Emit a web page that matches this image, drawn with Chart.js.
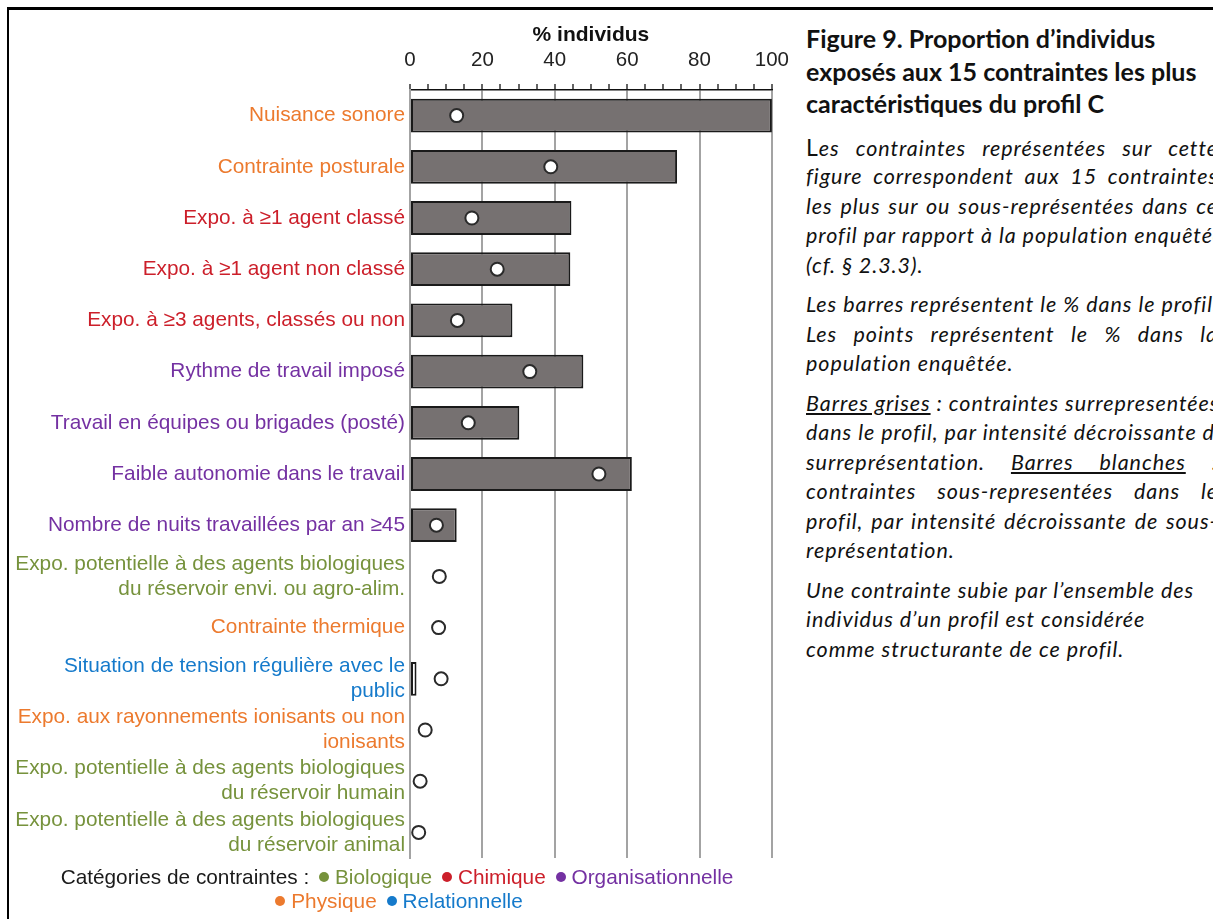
<!DOCTYPE html>
<html><head><meta charset="utf-8">
<script src="https://cdn.jsdelivr.net/npm/chart.js@4/dist/chart.umd.min.js"></script>
<style>
html,body{margin:0;padding:0;background:#fff;}
body{width:1213px;height:919px;overflow:hidden;position:relative;}
#c{position:absolute;left:0;top:0;}
.frame-top{position:absolute;left:7px;top:7px;width:1206px;height:3px;background:#000;}
.frame-left{position:absolute;left:7px;top:7px;width:2px;height:912px;background:#000;}
#legend{position:absolute;left:0;width:794px;top:865px;text-align:center;font-family:"Liberation Sans",Arial,sans-serif;font-size:20.8px;line-height:24px;color:#1a1a1a;white-space:nowrap;}
#legend .dot{display:inline-block;width:10px;height:10px;border-radius:50%;margin:0 6px 3px 4px;vertical-align:middle;}
#panel{position:absolute;left:806px;top:22px;width:412px;font-family:Lato,"Open Sans",sans-serif;color:#111;}
#panel .title{font-weight:bold;font-size:25px;line-height:32.5px;white-space:nowrap;}
#panel .p{font-style:italic;font-size:21.5px;letter-spacing:0.95px;line-height:29.5px;margin-top:10px;}
#panel .p.first{margin-top:13px;}
#panel .l{white-space:nowrap;height:29.5px;}
#panel .j{text-align:justify;text-align-last:justify;width:412px;}
#panel .big{font-style:normal;font-size:23px;}
</style></head>
<body>
<canvas id="c" width="800" height="919"></canvas>
<div class="frame-top"></div><div class="frame-left"></div>
<div id="legend"></div>
<div id="panel">
  <div class="title">Figure 9. Proportion d’individus</div>
  <div class="title">exposés aux 15 contraintes les plus</div>
  <div class="title">caractéristiques du profil C</div>
  <div class="p first">
    <div class="l j"><span class="big">L</span>es contraintes représentées sur cette</div>
    <div class="l j">figure correspondent aux 15 contraintes</div>
    <div class="l j">les plus sur ou sous-représentées dans ce</div>
    <div class="l j">profil par rapport à la population enquêtée</div>
    <div class="l">(cf. § 2.3.3).</div>
  </div>
  <div class="p">
    <div class="l j">Les barres représentent le % dans le profil.</div>
    <div class="l j">Les points représentent le % dans la</div>
    <div class="l">population enquêtée.</div>
  </div>
  <div class="p">
    <div class="l j"><u>Barres grises</u> : contraintes surrepresentées</div>
    <div class="l j">dans le profil, par intensité décroissante de</div>
    <div class="l j">surreprésentation. <u>Barres blanches</u> :</div>
    <div class="l j">contraintes sous-representées dans le</div>
    <div class="l j">profil, par intensité décroissante de sous-</div>
    <div class="l">représentation.</div>
  </div>
  <div class="p">
    <div class="l">Une contrainte subie par l’ensemble des</div>
    <div class="l">individus d’un profil est considérée</div>
    <div class="l">comme structurante de ce profil.</div>
  </div>
</div>
<script>
// ---- Data ----
const categories = [
  'Nuisance sonore',
  'Contrainte posturale',
  'Expo. à ≥1 agent classé',
  'Expo. à ≥1 agent non classé',
  'Expo. à ≥3 agents, classés ou non',
  'Rythme de travail imposé',
  'Travail en équipes ou brigades (posté)',
  'Faible autonomie dans le travail',
  'Nombre de nuits travaillées par an ≥45',
  ['Expo. potentielle à des agents biologiques', 'du réservoir envi. ou agro-alim.'],
  'Contrainte thermique',
  ['Situation de tension régulière avec le', 'public'],
  ['Expo. aux rayonnements ionisants ou non', 'ionisants'],
  ['Expo. potentielle à des agents biologiques', 'du réservoir humain'],
  ['Expo. potentielle à des agents biologiques', 'du réservoir animal']
];
const categoryGroup = [
  'Physique', 'Physique', 'Chimique', 'Chimique', 'Chimique',
  'Organisationnelle', 'Organisationnelle', 'Organisationnelle', 'Organisationnelle',
  'Biologique', 'Physique', 'Relationnelle', 'Physique', 'Biologique', 'Biologique'
];
const pctProfil = [100, 73.8, 44.6, 44.3, 28.3, 47.9, 30.2, 61.3, 12.9, 0, 0, 1.8, 0, 0, 0];
const pctPopulation = [12.9, 38.9, 17.1, 24.1, 13.1, 33.1, 16.1, 52.2, 7.3, 8.1, 7.9, 8.6, 4.2, 2.8, 2.4];
const representation = ['sur', 'sur', 'sur', 'sur', 'sur', 'sur', 'sur', 'sur', 'sur',
  'sous', 'sous', 'sous', 'sous', 'sous', 'sous'];
const groupNames = ['Biologique', 'Chimique', 'Organisationnelle', 'Physique', 'Relationnelle'];
const xMajorTicks = [0, 20, 40, 60, 80, 100];
const axisTitle = '% individus';
const legendTitle = 'Catégories de contraintes :';

// ---- Styles ----
const groupColors = {
  Biologique: '#76923C',
  Chimique: '#CC1F2A',
  Organisationnelle: '#7431A2',
  Physique: '#EC7A2E',
  Relationnelle: '#157ACB'
};
const FONT = '"Liberation Sans", Arial, sans-serif';
const GRID = '#a3a3a3';

// legend (HTML text)
(function () {
  const el = document.getElementById('legend');
  let html = legendTitle + ' ';
  groupNames.forEach((g, i) => {
    html += '<span class="dot" style="background:' + groupColors[g] + '"></span><span style="color:' + groupColors[g] + '">' + g + '</span>';
    if (i === 2) html += '<br>'; else html += ' ';
  });
  el.innerHTML = html;
})();

new Chart(document.getElementById('c').getContext('2d'), {
  type: 'bar',
  data: {
    labels: categories,
    datasets: [
      {
        type: 'line',
        label: '% dans la population enquêtée',
        data: pctPopulation,
        indexAxis: 'y',
        showLine: false,
        pointRadius: 6.5,
        pointHoverRadius: 6.5,
        pointBorderWidth: 2,
        pointBackgroundColor: '#ffffff',
        pointBorderColor: '#2a2a2a',
        order: 0,
        clip: false
      },
      {
        type: 'bar',
        label: '% dans le profil',
        data: pctProfil,
        indexAxis: 'y',
        backgroundColor: c => representation[c.dataIndex] === 'sur' ? '#767171' : '#ffffff',
        borderColor: '#1a1a1a',
        borderWidth: c => pctProfil[c.dataIndex] > 0 ? 2 : 0,
        borderSkipped: false,
        categoryPercentage: 1,
        barPercentage: 0.66,
        order: 1
      }
    ]
  },
  options: {
    indexAxis: 'y',
    responsive: false,
    animation: false,
    devicePixelRatio: 1,
    layout: { padding: { left: 0, right: 27, top: 0, bottom: 61 } },
    plugins: { legend: { display: false }, tooltip: { enabled: false } },
    scales: {
      x: {
        position: 'top',
        min: 0,
        max: 100,
        ticks: {
          stepSize: 5,
          autoSkip: false,
          maxRotation: 0,
          callback: v => xMajorTicks.includes(v) ? String(v) : '',
          font: { family: FONT, size: 20.5 },
          color: '#222',
          padding: 11
        },
        grid: {
          color: c => (c.tick && xMajorTicks.includes(c.tick.value)) ? GRID : 'rgba(0,0,0,0)',
          lineWidth: 2,
          tickColor: '#111',
          tickWidth: 1.3,
          tickLength: 6
        },
        border: { display: true, color: '#111', width: 1.5 },
        title: {
          display: true,
          text: axisTitle,
          font: { family: FONT, size: 21, weight: 'bold' },
          color: '#111',
          padding: { top: 23, bottom: 0 }
        },
        afterFit: s => { s.height = 90; }
      },
      y: {
        ticks: {
          autoSkip: false,
          color: c => groupColors[categoryGroup[c.index]],
          font: { family: FONT, size: 20.8, lineHeight: 1.2 },
          padding: 5
        },
        grid: { color: 'rgba(0,0,0,0)', drawTicks: false },
        border: { display: true, color: GRID, width: 2 },
        afterFit: s => { s.width = 410; }
      }
    }
  }
});
</script>
</body></html>
